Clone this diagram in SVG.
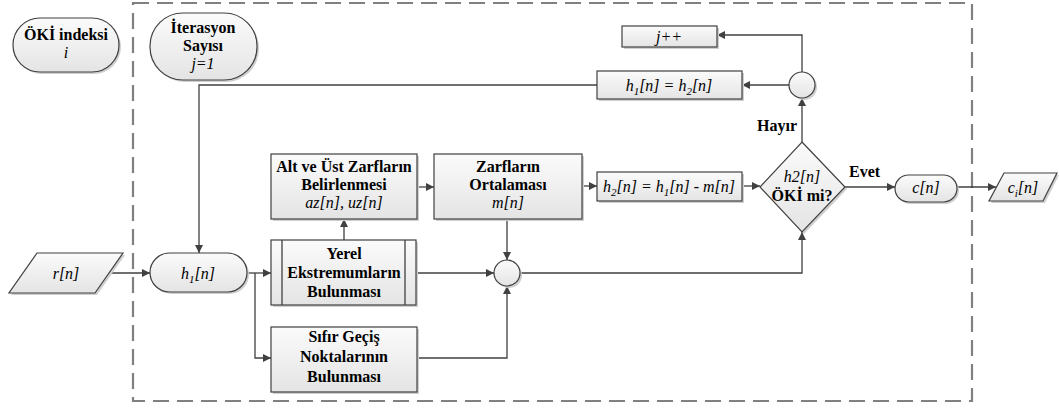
<svg xmlns="http://www.w3.org/2000/svg" width="1059" height="410" viewBox="0 0 1059 410">
<defs>
<linearGradient id="g" x1="0" y1="0" x2="0" y2="1">
<stop offset="0" stop-color="#fbfbfb"/>
<stop offset="1" stop-color="#e4e4e4"/>
</linearGradient>
<marker id="ar" viewBox="0 0 10 10" refX="10" refY="5" markerWidth="10" markerHeight="8" markerUnits="userSpaceOnUse" orient="auto">
<path d="M0,0 L10,5 L0,10 z" fill="#404040"/>
</marker>
</defs>
<style>
.sh{fill:url(#g);stroke:#404040;stroke-width:1.2}
.sd{fill:#cfcfcf;stroke:none}
.ln{fill:none;stroke:#404040;stroke-width:1.3}
.ar{marker-end:url(#ar)}
.dash{fill:none;stroke:#808080;stroke-width:2.2;stroke-dasharray:16 8}
</style>
<rect class="dash" x="133" y="3" width="839" height="398"/>

<g id="connectors">
<line class="ln ar" x1="110" y1="273" x2="150" y2="273"/>
<line class="ln ar" x1="247" y1="273" x2="271" y2="273"/>
<polyline class="ln ar" points="255,273 255,358 271,358"/>
<line class="ln ar" x1="344" y1="240" x2="344" y2="219"/>
<line class="ln ar" x1="417" y1="187" x2="434" y2="187"/>
<line class="ln ar" x1="507" y1="219" x2="507" y2="260"/>
<line class="ln ar" x1="416" y1="273" x2="494" y2="273"/>
<polyline class="ln ar" points="417,358 507,358 507,286"/>
<polyline class="ln ar" points="520,273 802,273 802,232"/>
<line class="ln ar" x1="582" y1="186" x2="597" y2="186"/>
<line class="ln ar" x1="742" y1="186" x2="760" y2="186"/>
<line class="ln ar" x1="802" y1="142" x2="802" y2="98"/>
<line class="ln ar" x1="789" y1="85" x2="742" y2="85"/>
<polyline class="ln ar" points="802,72 802,35 717,35"/>
<polyline class="ln ar" points="597,85 199,85 199,253"/>
<line class="ln ar" x1="845" y1="187" x2="895" y2="187"/>
<line class="ln ar" x1="957" y1="187" x2="996" y2="187"/>
</g>

<g id="oki">
<rect class="sd" x="15" y="20" width="106" height="54" rx="27"/>
<rect class="sh" x="13" y="18" width="106" height="54" rx="27"/>
<text font-family="Liberation Serif, serif" font-size="16" font-weight="bold" text-anchor="middle" x="66" y="40">ÖKİ indeksi</text>
<text font-family="Liberation Serif, serif" font-size="16" font-style="italic" text-anchor="middle" x="66" y="58">i</text>
</g>
<g id="iterasyon">
<rect class="sd" x="152" y="15" width="107" height="67" rx="33"/>
<rect class="sh" x="150" y="13" width="107" height="67" rx="33"/>
<text font-family="Liberation Serif, serif" font-size="16" font-weight="bold" text-anchor="middle" x="203" y="33">İterasyon</text>
<text font-family="Liberation Serif, serif" font-size="16" font-weight="bold" text-anchor="middle" x="203" y="51">Sayısı</text>
<text font-family="Liberation Serif, serif" font-size="16" font-style="italic" text-anchor="middle" x="203" y="69">j=1</text>
</g>
<g id="jpp">
<rect class="sd" x="624" y="28" width="95" height="21"/>
<rect class="sh" x="622" y="26" width="95" height="21"/>
<text font-family="Liberation Serif, serif" font-size="16" font-style="italic" text-anchor="middle" x="669" y="42">j++</text>
</g>
<g id="h1eq">
<rect class="sd" x="599" y="73" width="145" height="28"/>
<rect class="sh" x="597" y="71" width="145" height="28"/>
<text font-family="Liberation Serif, serif" font-size="16" font-style="italic" text-anchor="middle" x="669" y="91">h<tspan font-size="11" dy="4">1</tspan><tspan dy="-4">[n] = h</tspan><tspan font-size="11" dy="4">2</tspan><tspan dy="-4">[n]</tspan></text>
</g>
<g id="circTop">
<circle class="sd" cx="804" cy="87" r="13"/>
<circle class="sh" cx="802" cy="85" r="13"/>
</g>
<g id="alt">
<rect class="sd" x="273" y="156" width="146" height="65"/>
<rect class="sh" x="271" y="154" width="146" height="65"/>
<text font-family="Liberation Serif, serif" font-size="16" font-weight="bold" text-anchor="middle" x="344" y="172">Alt ve Üst Zarfların</text>
<text font-family="Liberation Serif, serif" font-size="16" font-weight="bold" text-anchor="middle" x="344" y="190">Belirlenmesi</text>
<text font-family="Liberation Serif, serif" font-size="16" font-style="italic" text-anchor="middle" x="344" y="208">az[n], uz[n]</text>
</g>
<g id="zarf">
<rect class="sd" x="436" y="156" width="148" height="65"/>
<rect class="sh" x="434" y="154" width="148" height="65"/>
<text font-family="Liberation Serif, serif" font-size="16" font-weight="bold" text-anchor="middle" x="508" y="172">Zarfların</text>
<text font-family="Liberation Serif, serif" font-size="16" font-weight="bold" text-anchor="middle" x="508" y="190">Ortalaması</text>
<text font-family="Liberation Serif, serif" font-size="16" font-style="italic" text-anchor="middle" x="508" y="208">m[n]</text>
</g>
<g id="h2eq">
<rect class="sd" x="599" y="174" width="145" height="29"/>
<rect class="sh" x="597" y="172" width="145" height="29"/>
<text font-family="Liberation Serif, serif" font-size="16" font-style="italic" text-anchor="middle" x="669" y="192">h<tspan font-size="11" dy="4">2</tspan><tspan dy="-4">[n] = h</tspan><tspan font-size="11" dy="4">1</tspan><tspan dy="-4">[n] - m[n]</tspan></text>
</g>
<g id="karar">
<polygon class="sd" points="804,144 847,189 804,234 762,189"/>
<polygon class="sh" points="802,142 845,187 802,232 760,187"/>
<text font-family="Liberation Serif, serif" font-size="16" font-style="italic" text-anchor="middle" x="802" y="182">h2[n]</text>
<text font-family="Liberation Serif, serif" font-size="16" font-weight="bold" text-anchor="middle" x="802" y="201">ÖKİ mi?</text>
</g>
<g id="labels">
<text font-family="Liberation Serif, serif" font-size="16" font-weight="bold" text-anchor="end" x="797" y="131">Hayır</text>
<text font-family="Liberation Serif, serif" font-size="16" font-weight="bold" text-anchor="start" x="849" y="177">Evet</text>
</g>
<g id="cn">
<rect class="sd" x="897" y="177" width="62" height="27" rx="13.5"/>
<rect class="sh" x="895" y="175" width="62" height="27" rx="13.5"/>
<text font-family="Liberation Serif, serif" font-size="16" font-style="italic" text-anchor="middle" x="926" y="193">c[n]</text>
</g>
<g id="ci">
<polygon class="sd" points="1006,175 1059,175 1045,203 991,203"/>
<polygon class="sh" points="1004,173 1057,173 1043,201 989,201"/>
<text font-family="Liberation Serif, serif" font-size="16" font-style="italic" text-anchor="middle" x="1023" y="193">c<tspan font-size="11" dy="4">i</tspan><tspan dy="-4">[n]</tspan></text>
</g>
<g id="rn">
<polygon class="sd" points="39,255 125,255 97,295 11,295"/>
<polygon class="sh" points="37,253 123,253 95,293 9,293"/>
<text font-family="Liberation Serif, serif" font-size="16" font-style="italic" text-anchor="middle" x="66" y="279">r[n]</text>
</g>
<g id="h1">
<rect class="sd" x="152" y="255" width="97" height="39" rx="19.5"/>
<rect class="sh" x="150" y="253" width="97" height="39" rx="19.5"/>
<text font-family="Liberation Serif, serif" font-size="16" font-style="italic" text-anchor="middle" x="198" y="279">h<tspan font-size="11" dy="4">1</tspan><tspan dy="-4">[n]</tspan></text>
</g>
<g id="yerel">
<rect class="sd" x="273" y="242" width="145" height="65"/>
<rect class="sh" x="271" y="240" width="145" height="65"/>
<line class="ln" x1="282" y1="240" x2="282" y2="305"/>
<line class="ln" x1="405" y1="240" x2="405" y2="305"/>
<text font-family="Liberation Serif, serif" font-size="16" font-weight="bold" text-anchor="middle" x="344" y="259">Yerel</text>
<text font-family="Liberation Serif, serif" font-size="16" font-weight="bold" text-anchor="middle" x="344" y="278">Ekstremumların</text>
<text font-family="Liberation Serif, serif" font-size="16" font-weight="bold" text-anchor="middle" x="344" y="297">Bulunması</text>
</g>
<g id="sum">
<circle class="sd" cx="509" cy="275" r="13"/>
<circle class="sh" cx="507" cy="273" r="13"/>
</g>
<g id="sifir">
<rect class="sd" x="273" y="329" width="146" height="65"/>
<rect class="sh" x="271" y="327" width="146" height="65"/>
<text font-family="Liberation Serif, serif" font-size="16" font-weight="bold" text-anchor="middle" x="344" y="342">Sıfır Geçiş</text>
<text font-family="Liberation Serif, serif" font-size="16" font-weight="bold" text-anchor="middle" x="344" y="362">Noktalarının</text>
<text font-family="Liberation Serif, serif" font-size="16" font-weight="bold" text-anchor="middle" x="344" y="382">Bulunması</text>
</g>
</svg>
